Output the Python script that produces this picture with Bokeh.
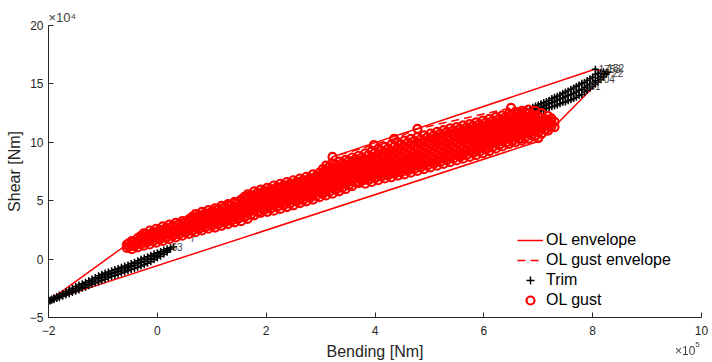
from bokeh.plotting import figure
from bokeh.models import Range1d, FixedTicker, Legend, LegendItem, Div
from bokeh.core.properties import value
from bokeh.embed import file_html
from bokeh.resources import INLINE

FONT = "Liberation Sans"

# ---------------- data (Bending in 1e5 Nm, Shear in 1e4 Nm) ----------------
x_ticks = [-2, 0, 2, 4, 6, 8, 10]
y_ticks = [-5, 0, 5, 10, 15, 20]
x_exponent = "5"
y_exponent = "4"

# OL envelope (solid)
env_x = [-2.0, -0.56, -0.25, 0.7, 1.66, 2.02, 2.5, 2.98, 3.22, 8.04, 8.28, 7.04, -2.0]
env_y = [-3.6, 1.25, 2.2, 3.85, 5.55, 6.1, 6.75, 7.4, 8.75, 16.25, 16.0, 10.14, -3.6]

# OL gust envelope (dashed)
genv_x = [-0.56, -0.25, 0.7, 1.66, 2.02, 2.5, 2.98, 3.22, 4.35, 4.78, 6.5, 6.82, 6.94, 7.06, 7.18, 7.3,
          7.3, 7.0, 3.82, 1.54, -0.47, -0.56]
genv_y = [1.25, 2.2, 3.85, 5.55, 6.1, 6.75, 7.4, 8.75, 10.3, 11.15, 12.95, 12.8, 12.7, 12.5, 12.25, 11.75,
          11.3, 10.35, 6.45, 3.25, 0.85, 1.25]

# Trim points, by column of bending value
trim_col_x = [-2.0, -1.97, -1.94, -1.9, -1.85, -1.8, -1.74, -1.68, -1.62, -1.56, -1.5, -1.44, -1.38,
              -1.32, -1.26, -1.2, -1.14, -1.08, -1.02, -0.96, -0.9, -0.84, -0.78, -0.72, -0.66, -0.6,
              -0.54, -0.48, -0.42, -0.36, -0.3, -0.24, -0.18, -0.12, -0.06, 0.0, 0.06, 0.12, 0.18, 0.24,
              0.3,
              1.2, 2.0, 2.8, 3.6, 4.24, 4.76, 5.3, 5.9, 6.4, 6.7,
              6.85, 6.9, 6.95, 7.0, 7.05, 7.1, 7.15, 7.2, 7.25, 7.3, 7.35, 7.4, 7.45, 7.5, 7.55, 7.6,
              7.65, 7.7, 7.75, 7.8, 7.85, 7.9, 7.95, 8.0, 8.05, 8.1, 8.15, 8.2, 8.25, 8.28]
trim_col_y = [
    [-3.6], [-3.5, -3.58], [-3.42, -3.52], [-3.3, -3.4, -3.47], [-3.2, -3.3, -3.38], [-3.08, -3.2, -3.3],
    [-2.95, -3.08, -3.18], [-2.8, -2.95, -3.08], [-2.65, -2.82, -2.98], [-2.5, -2.68, -2.86],
    [-2.35, -2.55, -2.76], [-2.22, -2.42, -2.64], [-2.1, -2.3, -2.5], [-1.98, -2.18, -2.4],
    [-1.85, -2.05, -2.28], [-1.7, -1.92, -2.16], [-1.57, -1.8, -2.05], [-1.42, -1.68, -1.95],
    [-1.3, -1.56, -1.84], [-1.2, -1.45, -1.72], [-1.1, -1.34, -1.6], [-1.0, -1.24, -1.5],
    [-0.9, -1.14, -1.4], [-0.8, -1.04, -1.3], [-0.7, -0.94, -1.2], [-0.6, -0.84, -1.1],
    [-0.5, -0.74, -1.0], [-0.38, -0.64, -0.9], [-0.26, -0.52, -0.8], [-0.14, -0.4, -0.7],
    [-0.02, -0.3, -0.6], [0.1, -0.18, -0.48], [0.2, -0.06, -0.36], [0.32, 0.06, -0.22],
    [0.45, 0.2, -0.06], [0.55, 0.32, 0.1], [0.65, 0.45, 0.25], [0.78, 0.6, 0.42], [0.88, 0.72, 0.58],
    [0.98, 0.85], [1.05],
    [3.6], [5.0], [6.1], [7.4], [7.9], [10.07], [9.8], [10.6], [11.3], [12.0],
    [12.5, 12.8], [12.45, 12.75, 13.0], [12.55, 12.85, 13.1], [12.6, 12.9, 13.2], [12.7, 13.0, 13.3],
    [12.8, 13.1, 13.4], [12.9, 13.2, 13.5], [12.95, 13.3, 13.6], [13.05, 13.4, 13.75],
    [13.1, 13.5, 13.85], [13.2, 13.6, 13.95], [13.3, 13.7, 14.05], [13.4, 13.8, 14.2],
    [13.45, 13.9, 14.3], [13.55, 14.0, 14.4], [13.65, 14.1, 14.55], [13.75, 14.2, 14.65],
    [13.85, 14.3, 14.8], [14.0, 14.45, 14.9], [14.1, 14.55, 15.05], [14.3, 14.7, 15.15],
    [14.45, 14.85, 15.3], [14.65, 15.0, 15.45], [14.8, 15.15, 15.6], [15.0, 15.3, 15.8, 16.25],
    [15.15, 15.5, 15.9], [15.35, 15.65, 16.0], [15.6, 15.85, 16.05], [15.85, 16.0], [16.0],
]

# Trim point ids (text)
lab_x = [8.11, 8.27, 8.36, 8.1, 7.94, 0.26, 0.6]
lab_y = [16.3, 16.35, 15.9, 15.4, 14.8, 1.0, 1.8]
lab_text = ["1753", "152", "22", "704", "61", "63", "7"]

# OL gust points, by column of bending value (first set of columns)
gust_col_x = [-0.56, -0.47, -0.36, -0.25, -0.14, -0.02, 0.10, 0.22, 0.34, 0.46, 0.58, 0.70, 0.82, 0.94,
              1.06, 1.18, 1.30, 1.42, 1.54, 1.66, 1.78, 1.90, 2.02, 2.14, 2.26, 2.38, 2.50, 2.62, 2.74,
              2.86, 2.98, 3.10, 3.22, 3.34, 3.46, 3.58, 3.70, 3.82, 3.94, 3.98, 4.06, 4.18, 4.30, 4.35,
              4.42, 4.54, 4.66, 4.78, 4.90, 5.02, 5.14, 5.26, 5.38, 5.50, 5.62, 5.74, 5.86, 5.98, 6.10,
              6.22, 6.34, 6.46, 6.50, 6.58, 6.70, 6.82, 6.94, 7.00, 7.06, 7.18, 7.30]
gust_col_y = [
    [0.95, 1.25], [0.85, 1.2, 1.55], [1.0, 1.4, 1.8], [1.15, 1.55, 1.9, 2.2], [1.25, 1.65, 2.05, 2.45],
    [1.4, 1.8, 2.2, 2.6], [1.55, 1.95, 2.4, 2.8], [1.7, 2.1, 2.55, 2.95], [1.85, 2.25, 2.7, 3.1],
    [2.0, 2.4, 2.85, 3.25], [2.15, 2.55, 3.0, 3.4], [2.3, 2.7, 3.1, 3.5, 3.85], [2.45, 2.85, 3.25, 3.65, 4.05],
    [2.6, 3.0, 3.4, 3.8, 4.2], [2.7, 3.1, 3.55, 3.95, 4.35], [2.85, 3.25, 3.7, 4.1, 4.55],
    [3.0, 3.4, 3.85, 4.3, 4.7], [3.15, 3.6, 4.05, 4.5, 4.9], [3.25, 3.7, 4.15, 4.65, 5.1],
    [3.45, 3.9, 4.35, 4.8, 5.2, 5.55], [3.75, 4.15, 4.6, 5.0, 5.4, 5.8], [3.95, 4.35, 4.75, 5.15, 5.55, 5.95],
    [4.05, 4.45, 4.9, 5.3, 5.7, 6.1], [4.15, 4.6, 5.05, 5.5, 5.9, 6.3], [4.3, 4.75, 5.2, 5.6, 6.05, 6.45],
    [4.45, 4.9, 5.35, 5.75, 6.2, 6.6], [4.6, 5.05, 5.5, 5.9, 6.35, 6.75], [4.8, 5.2, 5.65, 6.05, 6.5, 6.9],
    [4.95, 5.35, 5.8, 6.2, 6.65, 7.05], [5.1, 5.55, 5.95, 6.4, 6.8, 7.25], [5.3, 5.7, 6.15, 6.55, 7.0, 7.4],
    [5.45, 5.9, 6.3, 6.75, 7.15, 7.6, 8.0], [5.6, 6.05, 6.5, 6.9, 7.35, 7.8, 8.2, 8.75],
    [5.8, 6.25, 6.7, 7.1, 7.5, 7.95, 8.35], [6.0, 6.4, 6.85, 7.25, 7.7, 8.1, 8.5],
    [6.25, 6.65, 7.05, 7.45, 7.85, 8.3, 8.7], [6.5, 6.9, 7.3, 7.65, 8.05, 8.45, 8.85],
    [6.45, 6.9, 7.3, 7.7, 8.1, 8.55, 9.05], [6.6, 7.05, 7.45, 7.85, 8.3, 8.75, 9.25], [9.75],
    [6.75, 7.2, 7.6, 8.05, 8.5, 9.0, 9.45], [6.9, 7.35, 7.75, 8.2, 8.65, 9.15, 9.6],
    [7.0, 7.45, 7.9, 8.35, 8.85, 9.3, 9.8], [10.3], [7.15, 7.6, 8.05, 8.5, 9.0, 9.5, 10.0],
    [7.25, 7.7, 8.2, 8.65, 9.15, 9.65, 10.15], [7.4, 7.85, 8.35, 8.8, 9.3, 9.8, 10.3],
    [7.55, 8.0, 8.5, 8.95, 9.45, 9.95, 10.45, 11.15], [7.7, 8.15, 8.65, 9.1, 9.6, 10.1, 10.6],
    [7.85, 8.3, 8.8, 9.3, 9.8, 10.3, 10.75], [8.0, 8.45, 8.95, 9.45, 9.95, 10.45, 10.9],
    [8.15, 8.6, 9.1, 9.6, 10.1, 10.6, 11.05], [8.3, 8.75, 9.25, 9.75, 10.25, 10.75, 11.2],
    [8.45, 8.9, 9.4, 9.9, 10.4, 10.85, 11.3], [8.6, 9.05, 9.55, 10.05, 10.5, 11.0, 11.45],
    [8.75, 9.2, 9.7, 10.2, 10.65, 11.1, 11.55], [8.9, 9.35, 9.85, 10.3, 10.8, 11.25, 11.7],
    [9.05, 9.5, 10.0, 10.45, 10.95, 11.4, 11.85], [9.25, 9.7, 10.15, 10.6, 11.1, 11.55, 12.0],
    [9.45, 9.9, 10.35, 10.8, 11.25, 11.7, 12.15], [9.65, 10.1, 10.55, 11.0, 11.45, 11.9, 12.3],
    [9.85, 10.3, 10.75, 11.2, 11.6, 12.05, 12.45], [12.95],
    [10.0, 10.45, 10.9, 11.35, 11.8, 12.2, 12.6], [10.15, 10.6, 11.05, 11.5, 11.95, 12.35, 12.7],
    [10.3, 10.75, 11.2, 11.65, 12.05, 12.45, 12.8], [10.5, 10.95, 11.4, 11.85, 12.3, 12.7], [10.35],
    [10.75, 11.2, 11.65, 12.1, 12.5], [11.0, 11.4, 11.85, 12.25], [11.3, 11.75],
]

# OL gust points, second set of columns (lying between the first ones)
gust2_col_x = [-0.52, -0.42, -0.30, -0.20, -0.08, 0.04, 0.16, 0.28, 0.40, 0.52, 0.64, 0.76, 0.88, 1.00,
               1.12, 1.24, 1.36, 1.48, 1.60, 1.72, 1.84, 1.96, 2.08, 2.20, 2.32, 2.44, 2.56, 2.68, 2.80,
               2.92, 3.04, 3.16, 3.28, 3.40, 3.52, 3.64, 3.76, 3.88, 4.00, 4.12, 4.24, 4.36, 4.48, 4.60,
               4.72, 4.84, 4.96, 5.08, 5.20, 5.32, 5.44, 5.56, 5.68, 5.80, 5.92, 6.04, 6.16, 6.28, 6.40,
               6.52, 6.64, 6.76, 6.88, 7.00, 7.12, 7.24]
gust2_col_y = [
    [1.05, 1.38], [1.11, 1.49], [1.27, 1.66, 1.98], [1.4, 1.79, 2.15], [1.52, 1.92, 2.32],
    [1.67, 2.08, 2.5], [1.82, 2.25, 2.67], [1.97, 2.4, 2.82], [2.12, 2.55, 2.97], [2.27, 2.7, 3.12],
    [2.42, 2.84, 3.25, 3.62], [2.57, 2.97, 3.37, 3.76], [2.72, 3.12, 3.52, 3.92], [2.85, 3.26, 3.67, 4.07],
    [2.97, 3.4, 3.82, 4.23], [3.12, 3.55, 3.98, 4.41], [3.28, 3.72, 4.17, 4.6], [3.42, 3.87, 4.33, 4.78],
    [3.57, 4.02, 4.48, 4.93, 5.33], [3.81, 4.25, 4.68, 5.1, 5.48], [4.05, 4.46, 4.87, 5.27, 5.67],
    [4.2, 4.61, 5.02, 5.42, 5.82], [4.31, 4.75, 5.18, 5.6, 6.0], [4.45, 4.9, 5.33, 5.76, 6.17],
    [4.6, 5.05, 5.47, 5.9, 6.32], [4.75, 5.2, 5.62, 6.05, 6.47], [4.91, 5.35, 5.77, 6.2, 6.62],
    [5.07, 5.5, 5.92, 6.35, 6.77], [5.23, 5.66, 6.08, 6.51, 6.93], [5.41, 5.84, 6.26, 6.68, 7.11],
    [5.58, 6.01, 6.43, 6.86, 7.28, 7.7], [5.75, 6.18, 6.61, 7.03, 7.47, 7.9],
    [5.92, 6.37, 6.8, 7.21, 7.65, 8.07], [6.11, 6.55, 6.97, 7.39, 7.81, 8.22],
    [6.32, 6.74, 7.15, 7.56, 7.99, 8.4], [6.57, 6.97, 7.36, 7.75, 8.16, 8.57],
    [6.69, 7.1, 7.49, 7.87, 8.29, 8.72], [6.75, 7.17, 7.57, 7.99, 8.42, 8.9],
    [6.9, 7.32, 7.74, 8.17, 8.64, 9.11], [7.05, 7.47, 7.9, 8.35, 8.82, 9.3],
    [7.17, 7.61, 8.05, 8.51, 8.98, 9.46], [7.3, 7.75, 8.2, 8.67, 9.16, 9.65],
    [7.42, 7.88, 8.35, 8.82, 9.32, 9.82], [7.55, 8.02, 8.5, 8.97, 9.47, 9.97],
    [7.7, 8.17, 8.65, 9.12, 9.62, 10.12], [7.85, 8.32, 8.8, 9.27, 9.77, 10.27],
    [8.0, 8.47, 8.96, 9.45, 9.95, 10.43], [8.15, 8.62, 9.12, 9.62, 10.12, 10.6],
    [8.3, 8.77, 9.27, 9.77, 10.27, 10.75], [8.45, 8.92, 9.42, 9.92, 10.42, 10.9],
    [8.6, 9.07, 9.57, 10.07, 10.56, 11.02], [8.75, 9.22, 9.72, 10.21, 10.69, 11.15],
    [8.9, 9.37, 9.87, 10.35, 10.81, 11.27], [9.05, 9.52, 10.01, 10.48, 10.95, 11.4],
    [9.2, 9.67, 10.15, 10.62, 11.1, 11.55], [9.37, 9.84, 10.3, 10.77, 11.25, 11.7],
    [9.57, 10.02, 10.48, 10.94, 11.4, 11.85], [9.77, 10.22, 10.67, 11.12, 11.57, 12.01],
    [9.97, 10.42, 10.87, 11.31, 11.75, 12.17], [10.15, 10.6, 11.05, 11.48, 11.91, 12.32],
    [10.3, 10.75, 11.2, 11.65, 12.07, 12.46], [10.45, 10.9, 11.35, 11.79, 12.2, 12.58],
    [10.62, 11.07, 11.52, 11.96, 12.37], [10.85, 11.3, 11.75, 12.18], [11.08, 11.52, 11.96],
    [11.36, 11.8, 12.05],
]


def flatten(cols_x, cols_y):
    fx, fy = [], []
    for cx, ys in zip(cols_x, cols_y):
        for yy in ys:
            fx.append(cx)
            fy.append(yy)
    return fx, fy


trim_x, trim_y = flatten(trim_col_x, trim_col_y)
g1x, g1y = flatten(gust_col_x, gust_col_y)
g2x, g2y = flatten(gust2_col_x, gust2_col_y)
gust_x, gust_y = g1x + g2x, g1y + g2y

# ---------------- figure ----------------
p = figure(width=712, height=362, x_range=Range1d(-2, 10), y_range=Range1d(-5, 20),
           output_backend="svg", toolbar_location=None,
           min_border_left=48, min_border_right=11, min_border_top=25, min_border_bottom=45)
p.outline_line_color = None
p.grid.visible = False
p.background_fill_color = "white"
p.border_fill_color = "white"

# exponent of the y axis, as the (left-aligned) title
p.title.text = "×10" + {"4": "⁴", "5": "⁵"}[y_exponent]
p.title.align = "left"
p.title.text_font = FONT
p.title.text_font_size = "13px"
p.title.text_font_style = "normal"
p.title.text_color = "#404040"
p.title.offset = 0
p.title.standoff = 2

AX = "#262626"
for ax, ticks in ((p.xaxis[0], x_ticks), (p.yaxis[0], y_ticks)):
    ax.ticker = FixedTicker(ticks=ticks)
    ax.axis_line_color = AX
    ax.axis_line_width = 1
    ax.major_tick_line_color = AX
    ax.major_tick_in = 5
    ax.major_tick_out = 0
    ax.minor_tick_line_color = None
    ax.major_label_text_font = FONT
    ax.major_label_text_font_size = "12px"
    ax.major_label_text_color = AX
    ax.axis_label_text_font = FONT
    ax.axis_label_text_font_size = "16px"
    ax.axis_label_text_font_style = "normal"
    ax.axis_label_text_color = AX
p.xaxis[0].major_label_standoff = 8
p.xaxis[0].axis_label_standoff = 5
p.yaxis[0].major_label_standoff = 5
p.yaxis[0].axis_label_standoff = 4
p.xaxis[0].axis_label = "Bending [Nm]"
p.yaxis[0].axis_label = "Shear [Nm]"

env_r = p.line(env_x, env_y, line_color="#FF0000", line_width=1.5)
genv_r = p.line(genv_x, genv_y, line_color="#FF0000", line_width=1.5, line_dash="8 5")
trim_r = p.scatter(trim_x, trim_y, marker="cross", size=7, line_color="black", line_width=1.5)
p.text(x=lab_x, y=lab_y, text=lab_text, text_font=value(FONT), text_font_size="10px",
       text_baseline="middle", text_align="left", text_color="#404040")
gust_r = p.scatter(gust_x, gust_y, marker="circle", size=8, fill_color=None,
                   line_color="#FF0000", line_width=2.2)

legend = Legend(items=[LegendItem(label="OL envelope", renderers=[env_r]),
                       LegendItem(label="OL gust envelope", renderers=[genv_r]),
                       LegendItem(label="Trim", renderers=[trim_r]),
                       LegendItem(label="OL gust", renderers=[gust_r])],
                location=(469, 7), orientation="vertical",
                label_text_font=FONT, label_text_font_size="16px", label_text_color="#000000",
                glyph_width=26, glyph_height=20, label_height=20, spacing=0, padding=0, margin=0,
                label_standoff=3, border_line_alpha=0, background_fill_alpha=0)
p.add_layout(legend)

# exponent of the x axis, below the right end of the axis (fixed position on the page)
x_exp_div = Div(
    text=('<span style="position:fixed; left:675px; top:345px; font-family:\'Liberation Sans\'; '
          'font-size:12px; line-height:1; color:#404040; white-space:nowrap">×10'
          '<span style="position:relative; top:-8px; font-size:8px">' + x_exponent + '</span></span>'),
    width=0, height=0, margin=0)

open("out.html", "w").write(file_html([p, x_exp_div], INLINE))
